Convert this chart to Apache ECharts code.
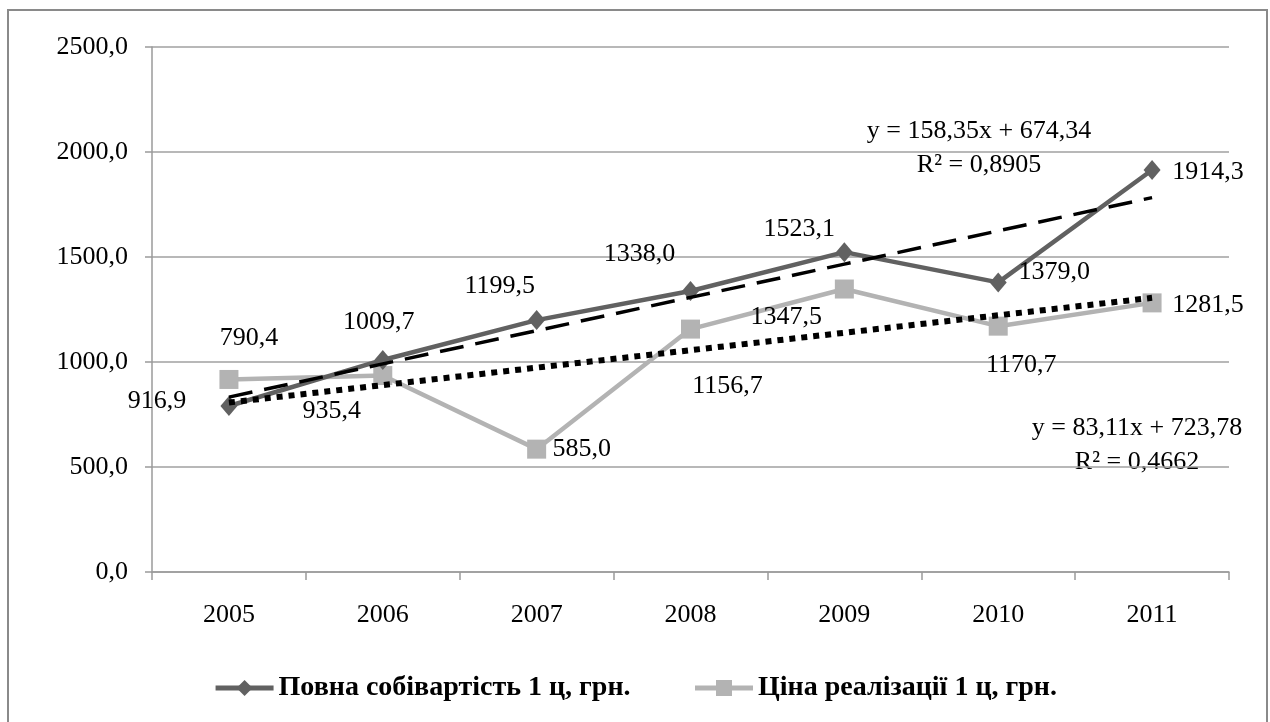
<!DOCTYPE html>
<html>
<head>
<meta charset="utf-8">
<script src="https://cdn.jsdelivr.net/npm/echarts@6/dist/echarts.min.js"></script>
<style>
  html, body { margin: 0; padding: 0; background: #ffffff; }
  #chart { width: 1270px; height: 722px; }
</style>
</head>
<body>
<div id="chart"></div>
<script>
// ---- data ----
const categories = ['2005', '2006', '2007', '2008', '2009', '2010', '2011'];
const costName = 'Повна собівартість 1 ц, грн.';
const priceName = 'Ціна реалізації 1 ц, грн.';
const costValues = [790.4, 1009.7, 1199.5, 1338.0, 1523.1, 1379.0, 1914.3];
const priceValues = [916.9, 935.4, 585.0, 1156.7, 1347.5, 1170.7, 1281.5];
// trend lines as printed on the chart: [slope, intercept, R²]
const costTrend = [158.35, 674.34, 0.8905];
const priceTrend = [83.11, 723.78, 0.4662];
const yMin = 0, yMax = 2500, yInterval = 500;

// ---- label placement (layout only) ----
const costLabelOffsets = [[20, -68], [-4, -38], [-37, -34], [-51, -37], [-45, -23], [56, -10], [56, 2]];
const priceLabelOffsets = [[-72, 22], [-51, 36], [45, 0], [37, 57], [-58, 28], [23, 39], [56, 2]];

const FONT = "'Liberation Serif', 'Times New Roman', serif";
const fmt = (v, d) => v.toFixed(d).replace('.', ',');

// trend values at x = 1..n (Excel numbering of categories)
const trendData = (t) => categories.map((_, i) => t[1] + t[0] * (i + 1));
const eqText = (t) => 'y = ' + fmt(t[0], 2) + 'x + ' + fmt(t[1], 2);
const r2Text = (t) => 'R² = ' + fmt(t[2], 4);

const chart = echarts.init(document.getElementById('chart'), null, { renderer: 'canvas' });

const labelStyle = {
  show: true,
  position: 'inside',
  fontFamily: FONT,
  fontSize: 26,
  color: '#000',
  formatter: (p) => fmt(p.value, 1)
};

const option = {
  backgroundColor: '#ffffff',
  animation: false,
  grid: { left: 152, right: 41, top: 47, bottom: 150, containLabel: false },
  legend: {
    data: [costName, priceName],
    left: 'center',
    top: 669,
    itemWidth: 58,
    itemHeight: 20,
    itemGap: 62,
    lineStyle: { width: 5 },
    textStyle: { fontFamily: FONT, fontSize: 28, fontWeight: 'bold', color: '#000' }
  },
  xAxis: {
    type: 'category',
    data: categories,
    boundaryGap: true,
    axisLine: { show: true, lineStyle: { color: '#9a9a9a', width: 1.5 } },
    axisTick: { show: true, length: 8, alignWithLabel: false, lineStyle: { color: '#9a9a9a', width: 1.5 } },
    axisLabel: { margin: 30, fontFamily: FONT, fontSize: 26, color: '#000' },
    splitLine: { show: false }
  },
  yAxis: {
    type: 'value',
    min: yMin,
    max: yMax,
    interval: yInterval,
    axisLine: { show: true, lineStyle: { color: '#9a9a9a', width: 1.5 } },
    axisTick: { show: true, length: 7, lineStyle: { color: '#9a9a9a', width: 1.5 } },
    axisLabel: { margin: 24, fontFamily: FONT, fontSize: 26, color: '#000', formatter: (v) => fmt(v, 1) },
    splitLine: { show: true, lineStyle: { color: '#a0a0a0', width: 1.5 } }
  },
  series: [
    {
      name: costName,
      type: 'line',
      data: costValues.map((v, i) => ({ value: v, label: { offset: costLabelOffsets[i] } })),
      symbol: 'diamond',
      symbolSize: [17, 20],
      itemStyle: { color: '#616161' },
      lineStyle: { color: '#616161', width: 4.5 },
      label: labelStyle,
      z: 3
    },
    {
      name: priceName,
      type: 'line',
      data: priceValues.map((v, i) => ({ value: v, label: { offset: priceLabelOffsets[i] } })),
      symbol: 'rect',
      symbolSize: 19,
      itemStyle: { color: '#b3b3b3' },
      lineStyle: { color: '#b3b3b3', width: 4.5 },
      label: labelStyle,
      z: 2
    },
    {
      name: 'trend-cost',
      type: 'line',
      data: trendData(costTrend),
      symbol: 'none',
      silent: true,
      lineStyle: { color: '#000', width: 3.5, type: [24, 12], cap: 'butt' },
      z: 4
    },
    {
      name: 'trend-price',
      type: 'line',
      data: trendData(priceTrend),
      symbol: 'none',
      silent: true,
      lineStyle: { color: '#000', width: 6, type: [6, 6], cap: 'butt' },
      z: 4
    }
  ],
  graphic: [
    {
      type: 'rect', silent: true, z: -1,
      shape: { x: 8, y: 10, width: 1259, height: 718 },
      style: { fill: 'none', stroke: '#8a8a8a', lineWidth: 2 }
    },
    { type: 'text', x: 979, y: 131, style: { text: eqText(costTrend), font: '26px ' + FONT, fill: '#000', align: 'center', verticalAlign: 'middle' } },
    { type: 'text', x: 979, y: 165, style: { text: r2Text(costTrend), font: '26px ' + FONT, fill: '#000', align: 'center', verticalAlign: 'middle' } },
    { type: 'text', x: 1137, y: 428, style: { text: eqText(priceTrend), font: '26px ' + FONT, fill: '#000', align: 'center', verticalAlign: 'middle' } },
    { type: 'text', x: 1137, y: 462, style: { text: r2Text(priceTrend), font: '26px ' + FONT, fill: '#000', align: 'center', verticalAlign: 'middle' } }
  ]
};

chart.setOption(option);
</script>
</body>
</html>
